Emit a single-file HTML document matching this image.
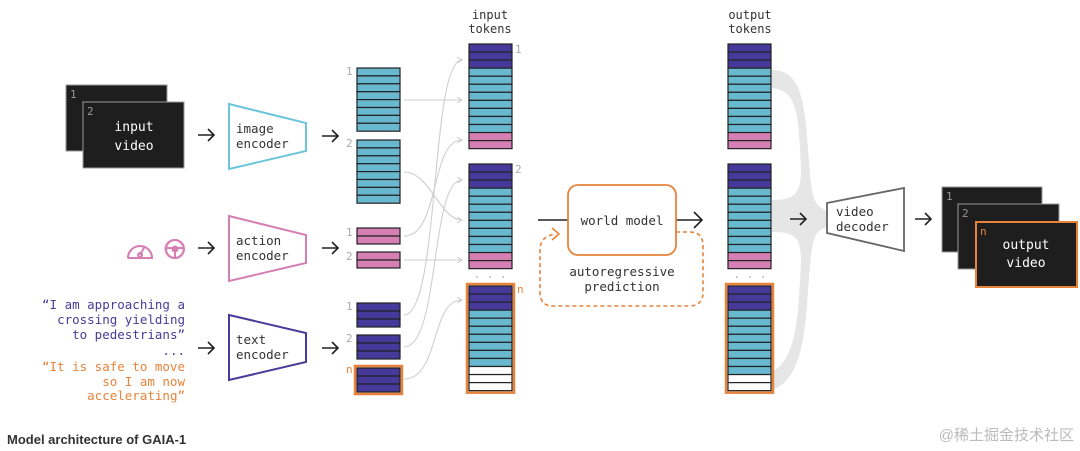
<!DOCTYPE html>
<html><head><meta charset="utf-8"><style>
html,body{margin:0;padding:0;background:#fff;width:1080px;height:451px;overflow:hidden}
svg{display:block}
.m{font-family:"DejaVu Sans Mono","Liberation Mono",monospace}
</style></head><body>
<svg id="s" width="1080" height="451" viewBox="0 0 1080 451" xmlns="http://www.w3.org/2000/svg">
<defs>
<marker id="ga" markerWidth="8" markerHeight="8" refX="6" refY="4" orient="auto" markerUnits="userSpaceOnUse"><path d="M1,1 L6,4 L1,7" fill="none" stroke="#c8c8c8" stroke-width="1"/></marker>
</defs>
<!-- gray flows to decoder -->
<g fill="#e6e6e6">
<path d="M772,70 C800,70 805,100 808,150 C812,200 812,205 830,212 L830,226 C812,230 812,240 808,290 C805,340 800,380 772,390 L772,372 C795,360 798,320 800,280 C803,240 800,232 772,232 L772,200 C800,200 803,190 800,150 C798,110 795,90 772,88 Z"/>
</g>
<!-- gray connectors -->
<g fill="none" stroke="#cfcfcf" stroke-width="1.1" marker-end="url(#ga)">
<path d="M404,100 L462,100"/>
<path d="M404,172 C430,172 440,220 462,220"/>
<path d="M404,236 C440,236 430,140 462,140"/>
<path d="M404,260 L462,260"/>
<path d="M404,315 C440,315 430,60 462,60"/>
<path d="M404,347 C440,347 430,180 462,180"/>
<path d="M404,379 C440,379 430,300 462,300"/>
</g>
<!-- input video frames -->
<rect x="66" y="85" width="101" height="66" fill="#1e1e1e" stroke="#999" stroke-width="1"/>
<text x="70" y="98" class="m" font-size="11" fill="#999">1</text>
<rect x="83" y="102" width="101" height="66" fill="#1e1e1e" stroke="#999" stroke-width="1"/>
<text x="87" y="115" class="m" font-size="11" fill="#999">2</text>
<text x="134" y="131" class="m" font-size="13" fill="#fff" text-anchor="middle">input</text>
<text x="134" y="150" class="m" font-size="13" fill="#fff" text-anchor="middle">video</text>
<!-- black arrows -->
<g fill="none" stroke="#222" stroke-width="1.6">
<path d="M198,135 L214,135 M208,129 L214,135 L208,141"/>
<path d="M322,136 L338,136 M332,130 L338,136 L332,142"/>
<path d="M198,248 L214,248 M208,242 L214,248 L208,254"/>
<path d="M322,248 L338,248 M332,242 L338,248 L332,254"/>
<path d="M198,348 L214,348 M208,342 L214,348 L208,354"/>
<path d="M322,348 L338,348 M332,342 L338,348 L332,354"/>
<path d="M538,220 L702,220 M694,212 L702,220 L694,228"/>
<path d="M790,219 L806,219 M800,213 L806,219 L800,225"/>
<path d="M915,219 L931,219 M925,213 L931,219 L925,225"/>
</g>
<!-- encoders -->
<path d="M229,104 L306,123 L306,151 L229,169 Z" fill="#fff" stroke="#6cc5d9" stroke-width="2"/>
<text x="236" y="133" class="m" font-size="12.5" fill="#333">image</text>
<text x="236" y="148" class="m" font-size="12.5" fill="#333">encoder</text>
<path d="M229,216 L306,235 L306,263 L229,281 Z" fill="#fff" stroke="#d57fb4" stroke-width="2"/>
<text x="236" y="245" class="m" font-size="12.5" fill="#333">action</text>
<text x="236" y="260" class="m" font-size="12.5" fill="#333">encoder</text>
<path d="M229,315 L306,333 L306,362 L229,380 Z" fill="#fff" stroke="#4b3a9a" stroke-width="2"/>
<text x="236" y="344" class="m" font-size="12.5" fill="#333">text</text>
<text x="236" y="359" class="m" font-size="12.5" fill="#333">encoder</text>
<!-- action icons -->
<g fill="none" stroke="#d57fb4" stroke-width="2">
<path d="M128,258 A12,12 0 0 1 152,258 Z" stroke="#f0c9de"/>
<path d="M128,258 A12,12 0 0 1 152,258 L128,258" />
<circle cx="140" cy="255" r="2"/>
<path d="M140,255 L145,246"/>
<circle cx="174" cy="249" r="9" stroke="#f0c9de"/>
<circle cx="175" cy="249" r="9"/>
<circle cx="175" cy="249" r="2.5" fill="#d57fb4"/>
<path d="M166,248 L184,248 M175,250 L175,258"/>
</g>
<!-- text prompts -->
<g class="m" font-size="12.5" text-anchor="end">
<text x="185" y="309" fill="#4b3a9a">“I am approaching a</text>
<text x="185" y="324" fill="#4b3a9a">crossing yielding</text>
<text x="185" y="339" fill="#4b3a9a">to pedestrians”</text>
<text x="185" y="355" fill="#4b3a9a">...</text>
<text x="185" y="371" fill="#e8833a">“It is safe to move</text>
<text x="185" y="386" fill="#e8833a">so I am now</text>
<text x="185" y="400" fill="#e8833a">accelerating”</text>
</g>
<g id="tok"></g>
<!-- labels -->
<g class="m" font-size="11" fill="#aaa">
<text x="346" y="75">1</text><text x="346" y="147">2</text>
<text x="346" y="236">1</text><text x="346" y="260">2</text>
<text x="346" y="310">1</text><text x="346" y="342">2</text>
<text x="346" y="373" fill="#e8833a">n</text>
<text x="515" y="53">1</text><text x="515" y="173">2</text>
<text x="517" y="293" fill="#e8833a">n</text>
<text x="490" y="278" text-anchor="middle">. . .</text>
<text x="750" y="278" text-anchor="middle">. . .</text>
</g>
<g class="m" font-size="12" fill="#333" text-anchor="middle">
<text x="490" y="19">input</text><text x="490" y="33">tokens</text>
<text x="750" y="19">output</text><text x="750" y="33">tokens</text>
</g>
<!-- world model -->
<rect x="568" y="185" width="108" height="70" rx="10" fill="#fff" stroke="#e8833a" stroke-width="1.8"/>
<text x="622" y="225" class="m" font-size="12.5" fill="#333" text-anchor="middle">world model</text>
<path d="M676,232 L690,232 Q703,232 703,246 L703,292 Q703,306 689,306 L553,306 Q540,306 540,292 L540,250 Q540,236 556,234" fill="none" stroke="#e8833a" stroke-width="1.6" stroke-dasharray="4,3"/>
<path d="M552,228 L559,234 L552,240" fill="none" stroke="#e8833a" stroke-width="1.6"/>
<text x="622" y="276" class="m" font-size="12.5" fill="#333" text-anchor="middle">autoregressive</text>
<text x="622" y="291" class="m" font-size="12.5" fill="#333" text-anchor="middle">prediction</text>
<!-- decoder -->
<path d="M827,203 L904,188 L904,251 L827,233 Z" fill="#fff" stroke="#666" stroke-width="1.8"/>
<text x="836" y="216" class="m" font-size="12.5" fill="#333">video</text>
<text x="836" y="231" class="m" font-size="12.5" fill="#333">decoder</text>
<!-- output frames -->
<rect x="942" y="187" width="100" height="65" fill="#1e1e1e" stroke="#999"/>
<text x="946" y="200" class="m" font-size="11" fill="#999">1</text>
<rect x="958" y="204" width="101" height="65" fill="#1e1e1e" stroke="#999"/>
<text x="962" y="217" class="m" font-size="11" fill="#999">2</text>
<rect x="976" y="222" width="101" height="65" fill="#1e1e1e" stroke="#e8833a" stroke-width="2"/>
<text x="980" y="235" class="m" font-size="11" fill="#e8833a">n</text>
<text x="1026" y="249" class="m" font-size="13" fill="#fff" text-anchor="middle">output</text>
<text x="1026" y="267" class="m" font-size="13" fill="#fff" text-anchor="middle">video</text>
<text x="7" y="444" font-family="Liberation Sans,sans-serif" font-weight="bold" font-size="13" fill="#333">Model architecture of GAIA-1</text>
<text x="1074" y="440" font-family="Liberation Sans,'Noto Sans CJK SC',sans-serif" font-size="15" fill="#bbb" text-anchor="end">@稀土掘金技术社区</text>
</svg>
<script>
var P='#46399a',C='#68b8d0',K='#d57fb4',W='#ffffff',O='#e8833a';
var g=document.getElementById('tok'),ns='http://www.w3.org/2000/svg';
function r(x,y,w,h,f,s,sw){var e=document.createElementNS(ns,'rect');e.setAttribute('x',x);e.setAttribute('y',y);e.setAttribute('width',w);e.setAttribute('height',h);e.setAttribute('fill',f);e.setAttribute('stroke',s);e.setAttribute('stroke-width',sw);g.appendChild(e);}
function col(x,y,w,rows,rh,orange){
 if(orange) r(x-2,y-2,w+4,rows.length*rh+4,'none',O,2.5);
 rows.forEach(function(c,i){r(x,y+i*rh,w,rh,c,'#222',1.2);});
}
function rep(a,n){var o=[];for(var i=0;i<n;i++)o.push(a);return o;}
col(357,68,43,rep(C,8),7.9);
col(357,140,43,rep(C,8),7.9);
col(357,228,43,rep(K,2),8);
col(357,252,43,rep(K,2),8);
col(357,303,43,rep(P,3),8);
col(357,335,43,rep(P,3),8);
col(357,368,43,rep(P,3),8,true);
var full=[].concat(rep(P,3),rep(C,8),rep(K,2));
var nin=[].concat(rep(P,3),rep(C,7),rep(W,3));
var nout=[].concat(rep(P,3),rep(C,8),rep(W,2));
[469,728].forEach(function(x){
 col(x,44,43,full,8.05);
 col(x,164,43,full,8.05);
});
col(469,286,43,nin,8.05,true);
col(728,286,43,nout,8.05,true);
</script>
</body></html>
